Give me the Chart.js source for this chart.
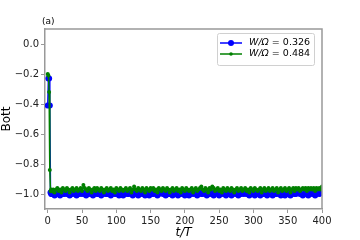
<!DOCTYPE html>
<html>
<head>
<meta charset="utf-8">
<script src="https://cdn.jsdelivr.net/npm/chart.js@4"></script>
<style>
  html, body { margin: 0; padding: 0; background: #fff; }
  #wrap { width: 360px; height: 240px; }
</style>
</head>
<body>
<div id="wrap"><canvas id="myChart"></canvas></div>
<script>
var tempos = [0,1,2,3,4,5,
  6,8,10,12,14,16,18,20,22,24,26,28,30,32,34,36,38,40,42,44,46,48,50,52,54,56,58,60,62,64,66,68,70,72,74,76,78,80,82,84,86,88,90,92,94,96,98,
  100,102,104,106,108,110,112,114,116,118,120,122,124,126,128,130,132,134,136,138,140,142,144,146,148,150,152,154,156,158,160,162,164,166,168,170,172,174,176,178,180,182,184,186,188,190,192,194,196,198,
  200,202,204,206,208,210,212,214,216,218,220,222,224,226,228,230,232,234,236,238,240,242,244,246,248,250,252,254,256,258,260,262,264,266,268,270,272,274,276,278,280,282,284,286,288,290,292,294,296,298,
  300,302,304,306,308,310,312,314,316,318,320,322,324,326,328,330,332,334,336,338,340,342,344,346,348,350,352,354,356,358,360,362,364,366,368,370,372,374,376,378,380,382,384,386,388,390,392,394,396,398,400];

var bott326 = [-0.41,-0.23,-0.23,-0.41,-0.99,-1.00,
  -1.00,-0.99,-1.01,-1.00,-0.99,-1.00,-1.01,-0.99,-1.00,-1.00,
  -0.99,-1.00,-1.00,-1.01,-0.99,-1.00,-0.99,-1.00,-1.01,-1.00,
  -1.00,-0.99,-1.00,-0.99,-1.00,-1.01,-1.00,-0.99,-1.00,-1.00,
  -1.01,-1.00,-0.99,-1.00,-1.00,-0.99,-1.01,-1.00,-0.99,-1.00,
  -1.00,-1.00,-0.99,-1.01,-1.00,-0.99,-1.00,-1.00,-0.99,-1.01,
  -0.99,-1.00,-1.01,-1.00,-0.99,-1.00,-1.00,-0.99,-1.00,-1.01,
  -1.00,-0.99,-1.00,-1.01,-1.00,-0.99,-1.00,-1.00,-1.01,-0.99,
  -1.00,-1.01,-0.99,-1.00,-1.00,-0.99,-1.00,-1.01,-1.00,-0.99,
  -0.99,-1.00,-1.00,-1.01,-0.99,-1.00,-1.00,-0.99,-1.01,-1.00,
  -1.00,-0.99,-1.01,-1.00,-1.00,-0.99,-1.00,-1.01,-0.99,-1.00,
  -1.01,-1.00,-0.99,-1.00,-0.99,-1.00,-1.01,-1.00,-0.99,-1.00,
  -1.00,-0.99,-1.00,-1.01,-1.00,-1.00,-0.99,-1.00,-1.01,-0.99,
  -0.99,-1.00,-1.01,-1.00,-0.99,-1.00,-1.00,-1.01,-0.99,-1.00,
  -1.00,-1.01,-1.00,-0.99,-1.00,-0.99,-1.01,-1.00,-1.00,-0.99,
  -1.00,-0.99,-1.00,-1.00,-1.01,-0.99,-1.00,-0.99,-1.01,-1.00,
  -0.99,-1.00,-1.01,-0.99,-1.00,-1.00,-0.99,-1.01,-1.00,-1.00,
  -1.00,-1.01,-0.99,-1.00,-1.00,-0.99,-1.00,-1.01,-0.99,-1.00,
  -1.01,-1.00,-1.00,-0.99,-1.01,-1.00,-0.99,-1.00,-1.00,-0.99,
  -0.99,-1.00,-1.00,-1.01,-1.00,-0.99,-1.00,-1.01,-1.00,-0.99,
  -1.00,-0.99,-1.01,-1.00,-0.99,-1.00,-0.99,-0.99];

var bott484 = [-0.20,-0.21,-0.32,-0.84,-0.98,-0.97,
  -0.98,-0.97,-0.99,-0.97,-0.96,-0.98,-0.97,-0.99,-0.96,-0.97,
  -0.98,-0.96,-0.97,-0.99,-0.97,-0.96,-0.98,-0.97,-0.96,-0.98,
  -0.97,-0.96,-0.98,-0.94,-0.96,-0.97,-0.98,-0.96,-0.97,-0.99,
  -0.97,-0.96,-0.98,-0.96,-0.97,-0.98,-0.96,-0.97,-0.99,-0.97,
  -0.96,-0.98,-0.97,-0.96,-0.98,-0.97,-0.99,-0.96,-0.97,-0.98,
  -0.96,-0.97,-0.98,-0.97,-0.96,-0.98,-0.97,-0.96,-0.99,-0.97,
  -0.95,-0.97,-0.98,-0.96,-0.97,-0.98,-0.96,-0.97,-0.99,-0.96,
  -0.97,-0.98,-0.96,-0.97,-0.96,-0.98,-0.97,-0.99,-0.96,-0.97,
  -0.98,-0.96,-0.97,-0.98,-0.96,-0.97,-0.99,-0.97,-0.96,-0.98,
  -0.97,-0.96,-0.98,-0.97,-0.99,-0.96,-0.97,-0.98,-0.96,-0.97,
  -0.98,-0.97,-0.96,-0.99,-0.97,-0.96,-0.98,-0.97,-0.96,-0.95,
  -0.97,-0.98,-0.96,-0.97,-0.99,-0.96,-0.97,-0.95,-0.96,-0.98,
  -0.97,-0.96,-0.98,-0.97,-0.99,-0.96,-0.97,-0.98,-0.96,-0.97,
  -0.98,-0.96,-0.97,-0.99,-0.97,-0.96,-0.98,-0.97,-0.96,-0.98,
  -0.97,-0.96,-0.98,-0.97,-0.99,-0.96,-0.97,-0.98,-0.96,-0.97,
  -0.98,-0.97,-0.96,-0.99,-0.97,-0.96,-0.98,-0.97,-0.96,-0.98,
  -0.97,-0.96,-0.98,-0.97,-0.96,-0.99,-0.97,-0.96,-0.98,-0.97,
  -0.96,-0.98,-0.97,-0.96,-0.99,-0.97,-0.96,-0.98,-0.96,-0.97,
  -0.96,-0.98,-0.97,-0.96,-0.97,-0.96,-0.98,-0.96,-0.97,-0.96,
  -0.97,-0.96,-0.98,-0.96,-0.97,-0.96,-0.97,-0.95];

var xTicks = [0,50,100,150,200,250,300,350,400];
var yTicks = [-1.0,-0.8,-0.6,-0.4,-0.2,0.0];
var rotulos = ["W/Ω = 0.326","W/Ω = 0.484"];
var cores = ["#0000ff","#008000"];

var fonte = "'DejaVu Sans', sans-serif";
var cinza = "#999999";

function pontos(vals) {
  return vals.map(function (v, i) { return {x: tempos[i], y: v}; });
}
function menos(v) {
  return v.toFixed(1).replace("-", "\u2212");
}

// moldura de cima/direita, "(a)" e legenda dentro do grafico
var extras = {
  id: "extras",
  afterDraw: function (chart) {
    var c = chart.ctx, a = chart.chartArea;
    c.save();
    c.strokeStyle = cinza;
    c.lineWidth = 1.5;
    c.beginPath();
    c.moveTo(a.left, a.top);
    c.lineTo(a.right, a.top);
    c.lineTo(a.right, a.bottom);
    c.stroke();

    c.fillStyle = "#000";
    c.font = "9px " + fonte;
    c.textBaseline = "alphabetic";
    c.fillText("(a)", a.left - 3, a.top - 5);

    // caixa da legenda
    var bx = a.right - 105, by = a.top + 4, bw = 97, bh = 32;
    c.fillStyle = "rgba(255,255,255,0.8)";
    c.strokeStyle = "#d0d0d0";
    c.lineWidth = 1;
    c.beginPath();
    c.roundRect(bx + 0.5, by + 0.5, bw, bh, 2);
    c.fill();
    c.stroke();

    for (var i = 0; i < rotulos.length; i++) {
      var yy = by + 10 + i * 11;
      c.strokeStyle = cores[i];
      c.lineWidth = 1.5;
      c.beginPath();
      c.moveTo(bx + 3, yy);
      c.lineTo(bx + 25, yy);
      c.stroke();
      c.fillStyle = cores[i];
      c.beginPath();
      c.arc(bx + 14, yy, i === 0 ? 3 : 1.8, 0, Math.PI * 2);
      c.fill();

      c.fillStyle = "#000";
      c.textBaseline = "middle";
      c.font = "italic 9.5px " + fonte;
      c.fillText("W/Ω", bx + 32, yy);
      var w = c.measureText("W/Ω").width;
      c.font = "9.5px " + fonte;
      c.fillText(" = " + rotulos[i].split("= ")[1], bx + 32 + w, yy);
    }
    c.restore();
  }
};

var ctx = document.getElementById("myChart");
var myChart = new Chart(ctx, {
  type: "line",
  data: {
    datasets: [
      {
        data: pontos(bott326),
        label: rotulos[0],
        borderColor: cores[0],
        backgroundColor: cores[0],
        borderWidth: 1.5,
        pointRadius: 3,
        pointBorderWidth: 0,
        order: 1
      },
      {
        data: pontos(bott484),
        label: rotulos[1],
        borderColor: cores[1],
        backgroundColor: cores[1],
        borderWidth: 1.5,
        pointRadius: 2,
        pointBorderWidth: 0,
        order: 0
      }
    ]
  },
  options: {
    responsive: true,
    maintainAspectRatio: false,
    animation: false,
    layout: { padding: { top: 29, right: 38, left: 0, bottom: 0 } },
    plugins: { legend: { display: false }, tooltip: { enabled: false } },
    elements: { line: { tension: 0 } },
    scales: {
      x: {
        type: "linear",
        min: -4,
        max: 400,
        afterBuildTicks: function (s) { s.ticks = xTicks.map(function (v) { return {value: v}; }); },
        afterFit: function (s) { s.height = 31; },
        grid: { display: true, drawOnChartArea: false, tickLength: 4, color: cinza, lineWidth: 1 },
        border: { display: true, color: cinza, width: 1.5 },
        ticks: { color: "#222", font: { family: fonte, size: 10 }, padding: 2, maxRotation: 0 },
        title: { display: true, text: "t/T", color: "#000", padding: 0,
          font: { family: fonte, size: 12, style: "italic" } }
      },
      y: {
        min: -1.1,
        max: 0.1,
        afterBuildTicks: function (s) { s.ticks = yTicks.map(function (v) { return {value: v}; }); },
        afterFit: function (s) { s.width = 45; },
        grid: { display: true, drawOnChartArea: false, tickLength: 4, color: cinza, lineWidth: 1 },
        border: { display: true, color: cinza, width: 1.5 },
        ticks: { color: "#222", font: { family: fonte, size: 10 }, padding: 2,
          callback: function (v) { return menos(v); } },
        title: { display: true, text: "Bott", color: "#000", padding: 0,
          font: { family: fonte, size: 12 } }
      }
    }
  },
  plugins: [extras]
});
</script>
</body>
</html>
